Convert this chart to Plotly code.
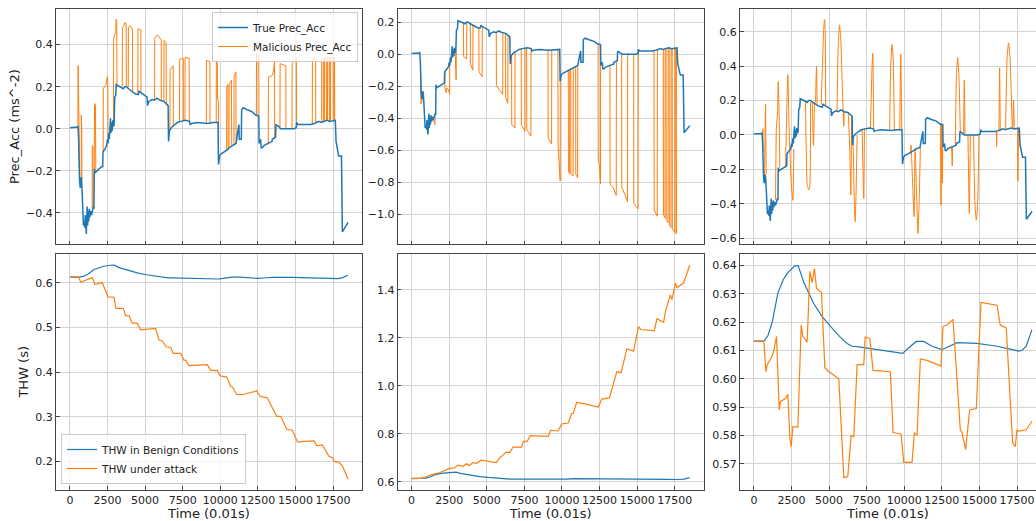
import plotly.graph_objects as go

FONT = "DejaVu Sans"
BLUE = "#1f77b4"
ORANGE = "#ff7f0e"

# ---------------- data (time in 0.01 s) ----------------
true_t = [0, 500, 540, 580, 640, 680, 720, 750, 790, 850, 900, 950, 990, 1020, 1050, 1090, 1120,
          1150, 1180, 1210, 1250, 1290, 1330, 1380, 1440, 1500, 1560, 1600, 1620, 1660, 1800, 1950,
          2100, 2180, 2200, 2300, 2400, 2450, 2500, 2540, 2580, 2620, 2660, 2700, 2730, 2770, 2810,
          2850, 2900, 2940, 2980, 3050, 3080, 3200, 3370, 3550, 3650, 3770, 3900, 4150, 4370, 4550,
          4600, 4650, 4920, 5130, 5160, 5250, 5480, 5600, 5800, 6000, 6250, 6480, 6530, 6560, 6620,
          6800, 6950, 7150, 7360, 7700, 7950, 8000, 8100, 8470, 9130, 9500, 9850, 9880, 9950, 10030,
          10470, 10600, 10800, 11000, 11050, 11150, 11240, 11260, 11400, 11420, 11530, 11800, 12130,
          12350, 12500, 12560, 12580, 12680, 12720, 12800, 12900, 13130, 13450, 13460, 13680, 13700,
          13900, 14000, 14500, 14900, 15050, 15080, 15150, 15600, 16000, 16250, 16550, 16700, 17100,
          17300, 17600, 17650, 17700, 17830, 17870, 18000, 18060, 18120, 18500]
true_acc = [0.005, 0.008, 0.013, -0.05, -0.24, -0.28, -0.27, -0.23, -0.26, -0.45, -0.46, -0.44,
            -0.47, -0.41, -0.48, -0.50, -0.43, -0.37, -0.46, -0.39, -0.44, -0.38, -0.42, -0.39,
            -0.41, -0.38, -0.37, -0.38, -0.19, -0.21, -0.20, -0.19, -0.18, -0.18, -0.11, -0.10,
            -0.09, -0.08, -0.05, -0.07, -0.02, -0.05, 0.0, 0.05, -0.02, 0.03, -0.01, 0.04, 0.01,
            0.02, 0.15, 0.16, 0.21, 0.205, 0.195, 0.19, 0.2, 0.2, 0.19, 0.175, 0.165, 0.162, 0.18,
            0.175, 0.16, 0.15, 0.11, 0.13, 0.14, 0.135, 0.145, 0.135, 0.13, 0.11, 0.11, -0.06, -0.01,
            0.01, 0.02, 0.03, 0.035, 0.04, 0.035, 0.02, 0.025, 0.03, 0.025, 0.03, 0.03, -0.17, -0.13,
            -0.12, -0.10, -0.09, -0.08, -0.075, -0.07, -0.02, 0.02, -0.05, -0.05, 0.09, 0.10, 0.09,
            0.08, 0.065, 0.06, 0.06, -0.07, -0.05, -0.09, -0.09, -0.08, -0.07, -0.06, -0.05, -0.04,
            0.02, 0.01, 0.0, 0.0, 0.0, 0.005, 0.03, 0.02, 0.02, 0.02, 0.025, 0.035, 0.03, 0.04, 0.035,
            0.04, 0.04, -0.06, -0.11, -0.13, -0.13, -0.13, -0.49, -0.445]

# malicious Prec_Acc, attack 1 (positive pulses)
mal1_t = [530, 545, 600, 640, None, 750, 760, 790, 800, None, 1480, 1490, 1530, 1540, None,
          1620, 1640, 1700, 1720, None, 2210, 2220, 2300, 2400, 2450, 2500, 2520, 2540, None,
          2900, 2910, 2990, 3050, 3070, 3110, 3130, None, 3480, 3490, 3600, 3640, 3740, 3750, None,
          3880, 3890, 4000, 4160, 4170, None, 4520, 4530, 4720, 4725, None,
          5630, 5640, 5800, 5900, 6000, 6070, 6080, None, 6250, 6260, 6400, 6410, None,
          6650, 6660, 6800, 6870, 6880, None, 7290, 7300, 7540, 7545, None, 7650, 7660, 7930, 7940, None,
          9070, 9080, 9310, 9320, None, 9730, 9740, 9800, 9820, 9880, 9890, None,
          10420, 10430, 10510, 10520, None, 10580, 10590, 10740, 10760, None, 10910, 10920, 11040, 11050, None,
          12400, 12410, 12560, 12570, None, 13190, 13200, 13400, 13500, 13580, 13610, 13620, None,
          13970, 13980, 14100, 14360, 14370, None, 14770, 14780, 14900, 14980, 15060, 15075, None,
          16120, 16130, 16340, 16350, None, 16740, 16750, 16850, 16860, None, 16920, 16930, 17050, 17060, None,
          17130, 17140, 17250, 17260, None, 17330, 17340, 17500, 17510, None, 17560, 17570, 17600, 17610]
mal1_acc = [0.012, 0.30, 0.05, -0.22, None, -0.23, 0.065, 0.0, -0.25, None, -0.38, -0.08, -0.09, -0.38, None,
            -0.19, 0.12, 0.11, -0.2, None, -0.11, 0.19, 0.2, 0.21, 0.23, 0.25, 0.22, -0.06, None,
            0.01, 0.43, 0.45, 0.46, 0.52, 0.51, 0.21, None, 0.2, 0.48, 0.49, 0.505, 0.50, 0.2, None,
            0.2, 0.48, 0.49, 0.475, 0.18, None, 0.165, 0.475, 0.47, 0.175, None,
            0.135, 0.43, 0.445, 0.44, 0.43, 0.42, 0.135, None, 0.13, 0.42, 0.41, 0.12, None,
            -0.01, 0.28, 0.295, 0.30, 0.01, None, 0.035, 0.33, 0.335, 0.04, None, 0.04, 0.34, 0.335, 0.035, None,
            0.025, 0.325, 0.32, 0.025, None, 0.03, 0.33, 0.325, 0.14, 0.13, -0.16, None,
            -0.10, 0.2, 0.21, -0.1, None, -0.09, 0.21, 0.23, -0.08, None, -0.08, 0.25, 0.27, -0.07, None,
            0.065, 0.36, 0.35, 0.06, None, -0.07, 0.245, 0.25, 0.26, 0.30, 0.32, -0.05, None,
            0.0, 0.31, 0.305, 0.30, 0.0, None, 0.0, 0.31, 0.32, 0.33, 0.34, 0.03, None,
            0.02, 0.335, 0.33, 0.025, None, 0.03, 0.33, 0.335, 0.03, None, 0.035, 0.335, 0.34, 0.04, None,
            0.04, 0.34, 0.34, 0.035, None, 0.035, 0.34, 0.34, 0.04, None, 0.04, 0.34, 0.34, 0.04]

# malicious Prec_Acc, attack 2 (negative pulses)
mal2_t = [600, 620, 680, 700, None, 1440, 1450, 1550, 1560, None,
          2210, 2220, 2300, 2350, 2450, 2530, 2540, None, 2900, 2910, 2960, 2970, None,
          3450, 3460, 3660, 3670, None, 3900, 3910, 4070, 4080, None, 4470, 4480, 4690, 4700, None,
          5630, 5640, 5900, 6060, 6070, None, 6250, 6260, 6400, 6410, None,
          6650, 6660, 6870, 6880, None, 7290, 7300, 7540, 7545, None, 7650, 7660, 7930, 7940, None,
          9070, 9080, 9310, 9320, None, 9730, 9740, 9880, 9890, None,
          10420, 10430, 10510, 10520, None, 10580, 10590, 10740, 10750, None, 10910, 10920, 11040, 11050, None,
          12400, 12410, 12500, 12560, 12570, None, 13190, 13200, 13400, 13550, 13610, 13620, None,
          13970, 13980, 14200, 14360, 14370, None, 14770, 14780, 15060, 15075, None,
          16120, 16130, 16340, 16350, None, 16740, 16750, 16850, 16860, None, 16920, 16930, 17050, 17060, None,
          17130, 17140, 17250, 17260, None, 17330, 17340, 17500, 17510, None, 17560, 17570, 17600, 17610]
mal2_acc = [-0.1, -0.31, -0.30, -0.27, None, -0.39, -0.40, -0.44, -0.38, None,
            -0.11, -0.21, -0.24, -0.21, -0.22, -0.25, -0.06, None, 0.01, -0.15, -0.16, 0.02, None,
            0.2, -0.015, -0.03, 0.2, None, 0.19, -0.06, -0.10, 0.18, None, 0.165, -0.11, -0.14, 0.175, None,
            0.135, -0.195, -0.23, -0.25, 0.13, None, 0.13, -0.27, -0.305, 0.12, None,
            -0.01, -0.44, -0.46, 0.01, None, 0.035, -0.44, -0.48, 0.04, None, 0.04, -0.47, -0.51, 0.035, None,
            0.025, -0.52, -0.56, 0.025, None, 0.03, -0.56, -0.79, -0.17, None,
            -0.10, -0.73, -0.745, -0.1, None, -0.09, -0.745, -0.76, -0.085, None, -0.08, -0.75, -0.77, -0.07, None,
            0.065, -0.66, -0.70, -0.81, 0.06, None, -0.07, -0.81, -0.83, -0.86, -0.88, -0.05, None,
            0.0, -0.83, -0.88, -0.92, 0.0, None, 0.0, -0.93, -0.965, 0.03, None,
            0.02, -0.97, -1.01, 0.025, None, 0.03, -1.0, -1.02, 0.03, None, 0.035, -1.03, -1.05, 0.04, None,
            0.04, -1.06, -1.08, 0.035, None, 0.035, -1.09, -1.11, 0.04, None, 0.04, -1.11, -1.12, 0.04]

# malicious Prec_Acc, attack 3 (oscillating)
mal3_t = [570, 598, 615, None, 700, 760, 775, 790, 820, None,
          1440, 1500, 1570, 1616, 1650, 1683, 1720, None,
          2103, 2200, 2258, 2320, 2391, 2500, 2590, 2657, None,
          3430, 3480, 3542, 3600, 3653, 3720, 3764, None, 3880, 3963, 4030, None, 4100, 4162, 4207, None,
          4470, 4560, 4630, 4694, 4740, 4770, None, 5530, 5600, 5690, 5780, 5870, 5978, 6000, None,
          6280, 6380, 6443, 6500, None, 6600, 6680, 6731, 6790, 6863, None, 7200, 7306, 7350, None,
          7750, 7860, 7904, 7970, None, 9030, 9100, 9188, 9260, 9340, None, 9700, 9764, 9830, None,
          10400, 10450, 10520, 10650, 10720, 10800, 10915, 11000, 11070, None,
          12400, 12443, 12480, None, 12500, 12531, 12560, None, 13150, 13190, 13220, None,
          13395, 13470, 13550, 13630, 13727, None, 13948, 13993, 14037, None, 14236, 14325, 14391, None,
          14612, 14700, 14790, 14880, 14967, None, 16118, 16140, 16162, None, 16295, 16340, 16384, None,
          16738, 16840, 16937, 17030, 17181, None, 17225, 17269, 17313, None, 17535, 17557, 17601]
mal3_acc = [0.0, 0.035, -0.1, None, -0.28, 0.12, 0.18, 0.0, -0.23, None,
            -0.38, 0.05, 0.12, 0.31, 0.2, 0.1, -0.19, None,
            -0.19, 0.2, 0.35, 0.1, -0.1, -0.3, -0.38, -0.08, None,
            0.2, -0.1, -0.29, -0.31, -0.32, -0.29, 0.19, None, 0.19, -0.06, 0.19, None, 0.19, 0.40, 0.18, None,
            0.175, 0.40, 0.60, 0.67, 0.60, 0.17, None, 0.14, 0.50, 0.64, 0.55, 0.30, 0.05, 0.135, None,
            0.12, -0.1, -0.35, 0.11, None, -0.04, -0.4, -0.505, -0.35, 0.0, None, 0.03, -0.37, 0.035, None,
            0.04, 0.40, 0.475, 0.035, None, 0.025, 0.40, 0.525, 0.45, 0.025, None, 0.03, 0.47, 0.03, None,
            -0.11, -0.06, -0.2, -0.475, -0.08, -0.3, -0.573, -0.35, -0.07, None,
            0.065, -0.41, 0.06, None, 0.06, -0.28, -0.05, None, -0.07, -0.18, -0.07, None,
            -0.06, 0.35, 0.45, 0.35, 0.02, None, 0.01, 0.32, 0.0, None, 0.0, -0.457, 0.0, None,
            0.0, -0.4, -0.496, -0.4, 0.0, None, 0.02, -0.07, 0.02, None, 0.02, 0.39, 0.02, None,
            0.03, 0.45, 0.535, 0.45, 0.035, None, 0.04, 0.2, 0.035, None, 0.04, -0.27, 0.04]

# THW in benign conditions
benign_t = [0, 664, 930, 1218, 1594, 1948, 2258, 2701, 2945, 3321, 3985, 4539, 5092, 5690, 6199,
            6531, 6863, 7970, 9298, 9897, 10295, 10805, 11292, 11845, 12509, 13063, 13505, 14834,
            16162, 17048, 17601, 17823, 18110, 18486]
benign_thw = [0.6133, 0.6133, 0.6152, 0.6200, 0.6303, 0.6350, 0.6375, 0.6398, 0.6400, 0.6340,
              0.6265, 0.6220, 0.6185, 0.6150, 0.6125, 0.6115, 0.6114, 0.6105, 0.6095, 0.6090,
              0.6110, 0.6132, 0.6132, 0.6115, 0.6103, 0.6118, 0.6128, 0.6125, 0.6115, 0.6105,
              0.6098, 0.6100, 0.6115, 0.6173]

# THW under attack 1
att1_t = [0, 600, 710, 1486, 1663, 2151, 2528, 2928, 3061, 3549, 3704, 3926, 4148, 4480, 4702,
          5700, 5922, 6144, 6410, 6698, 6876, 7364, 7586, 7697, 7918, 9138, 9360, 9804, 9981,
          10425, 10691, 10802, 11090, 11534, 12421, 12643, 13131, 13752, 14018, 14417, 14794,
          15127, 16236, 16413, 16790, 17234, 17456, 17566, 17900, 18121, 18498]
att1_thw = [0.6135, 0.6135, 0.6015, 0.6120, 0.5970, 0.6010, 0.5690, 0.5680, 0.5430, 0.5430,
            0.5270, 0.5270, 0.5100, 0.5100, 0.4950, 0.4980, 0.4720, 0.4700, 0.4570, 0.4560,
            0.4420, 0.4420, 0.4270, 0.4270, 0.4150, 0.4170, 0.4040, 0.4040, 0.3920, 0.3890,
            0.3680, 0.3670, 0.3500, 0.3500, 0.3580, 0.3460, 0.3420, 0.3010, 0.3010, 0.2720,
            0.2700, 0.2440, 0.2460, 0.2350, 0.2370, 0.2110, 0.2090, 0.2000, 0.1980, 0.1900, 0.1600]

# THW under attack 2
att2_t = [0, 620, 1400, 1850, 2515, 2850, 3072, 3450, 3628, 3850, 4073, 4300, 4630, 5632, 5854,
          6077, 6300, 6522, 6745, 7301, 7457, 7680, 7902, 9082, 9238, 9750, 9972, 10418, 10640,
          10752, 10974, 11531, 12421, 12644, 13156, 13645, 13934, 14313, 14761, 15092, 15248,
          16139, 16316, 16761, 16873, 17207, 17318, 17541, 17652, 18097, 18498]
att2_thw = [0.614, 0.614, 0.631, 0.638, 0.656, 0.658, 0.670, 0.665, 0.675, 0.668, 0.680, 0.677,
            0.690, 0.680, 0.700, 0.711, 0.724, 0.722, 0.745, 0.745, 0.770, 0.768, 0.793, 0.790,
            0.815, 0.812, 0.841, 0.845, 0.885, 0.885, 0.931, 0.925, 0.912, 0.945, 0.950, 1.059,
            1.055, 1.154, 1.145, 1.247, 1.235, 1.230, 1.280, 1.265, 1.309, 1.379, 1.360, 1.428,
            1.410, 1.430, 1.504]

# THW under attack 3
att3_t = [0, 664, 797, 885, 1107, 1284, 1505, 1683, 1771, 2103, 2258, 2391, 2480, 2590, 2922,
          3144, 3255, 3542, 3720, 3875, 4029, 4162, 4494, 4716, 4871, 5646, 5978, 6243, 6465,
          6642, 6863, 7306, 7395, 7705, 7926, 9077, 9254, 9785, 9963, 10517, 10672, 10849, 11070,
          11513, 12443, 12576, 12842, 13240, 13727, 13838, 14081, 14347, 14790, 15100, 16162,
          16384, 16782, 17203, 17380, 17490, 17601, 18110, 18486]
att3_thw = [0.6133, 0.6133, 0.6025, 0.6050, 0.6070, 0.6090, 0.6150, 0.5890, 0.5920, 0.5930,
            0.5945, 0.5790, 0.5760, 0.5830, 0.5830, 0.6190, 0.6150, 0.6130, 0.6380, 0.6340,
            0.6390, 0.6320, 0.6305, 0.6040, 0.6030, 0.6000, 0.5651, 0.5655, 0.5800, 0.5795,
            0.6050, 0.6050, 0.6148, 0.6143, 0.6030, 0.6025, 0.5810, 0.5805, 0.5705, 0.5705,
            0.5810, 0.5800, 0.6070, 0.6065, 0.6045, 0.6185, 0.6190, 0.6210, 0.5820, 0.5810,
            0.5750, 0.5890, 0.5895, 0.6270, 0.6260, 0.6190, 0.6180, 0.5775, 0.5760, 0.5820,
            0.5815, 0.5820, 0.5850]

x_ticks = [0, 2500, 5000, 7500, 10000, 12500, 15000, 17500]

# ---------------- figure ----------------
W, H = 1036, 521
fig = go.Figure()

mal_sets = [(mal1_t, mal1_acc, "linear"), (mal2_t, mal2_acc, "linear"), (mal3_t, mal3_acc, "spline")]
for i, (mt, mv, shape) in enumerate(mal_sets):
    xa = "x" if i == 0 else f"x{i+1}"
    ya = "y" if i == 0 else f"y{i+1}"
    fig.add_trace(go.Scatter(x=mt, y=mv, xaxis=xa, yaxis=ya, mode="lines",
                             line=dict(color=ORANGE, width=1, shape=shape, smoothing=0.6),
                             name="Malicious Prec_Acc", legend="legend", legendrank=2,
                             showlegend=(i == 0), connectgaps=False))
    fig.add_trace(go.Scatter(x=true_t, y=true_acc, xaxis=xa, yaxis=ya, mode="lines",
                             line=dict(color=BLUE, width=1.5),
                             name="True Prec_Acc", legend="legend", legendrank=1,
                             showlegend=(i == 0)))

att_sets = [(att1_t, att1_thw), (att2_t, att2_thw), (att3_t, att3_thw)]
for i, (at, av) in enumerate(att_sets):
    xa = f"x{i+4}"
    ya = f"y{i+4}"
    fig.add_trace(go.Scatter(x=benign_t, y=benign_thw, xaxis=xa, yaxis=ya, mode="lines",
                             line=dict(color=BLUE, width=1.2),
                             name="THW in Benign Conditions", legend="legend2", legendrank=1,
                             showlegend=(i == 0)))
    fig.add_trace(go.Scatter(x=at, y=av, xaxis=xa, yaxis=ya, mode="lines",
                             line=dict(color=ORANGE, width=1.2),
                             name="THW under attack", legend="legend2", legendrank=2,
                             showlegend=(i == 0)))

col_px = [(56, 362), (397.7, 703.7), (740, 1036)]
x_ranges = [[-925, 19425], [-925, 19425], [-925, 18760]]
row_dom = [[1 - 244.3 / H, 1 - 9 / H], [1 - 489.5 / H, 1 - 254 / H]]
y_ranges = [[-0.549, 0.569], [-1.185, 0.282], [-0.636, 0.732],
            [0.137, 0.665], [0.568, 1.550], [0.5609, 0.6441]]
y_dtick = [0.2, 0.2, 0.2, 0.1, 0.2, 0.01]
y_fmt = [".1f", ".1f", ".1f", ".1f", ".1f", ".2f"]

tickfont = dict(family=FONT, size=11, color="#222222")
titlefont = dict(family=FONT, size=13, color="#222222")
common = dict(showline=True, linecolor="#444444", linewidth=1, ticks="inside", ticklen=3.5,
              tickwidth=1, tickcolor="#444444", showgrid=True, gridcolor="#d3d3d3", gridwidth=1,
              zeroline=False, tickfont=tickfont, automargin=False)

layout = {}
for k in range(6):
    r, c = divmod(k, 3)
    suffix = "" if k == 0 else str(k + 1)
    a, b = col_px[c]
    xax = dict(common, domain=[a / W, b / W], range=x_ranges[c], tickmode="array",
               tickvals=x_ticks, ticktext=[str(v) for v in x_ticks], mirror=True,
               anchor="y" + suffix, showticklabels=(r == 1))
    if r == 1:
        xax["title"] = dict(text="Time (0.01s)", font=titlefont, standoff=2)
    yax = dict(common, domain=row_dom[r], range=y_ranges[k], dtick=y_dtick[k], tick0=0,
               tickformat=y_fmt[k], mirror=(c != 2), anchor="x" + suffix)
    if k == 0:
        yax["title"] = dict(text="Prec_Acc (ms^-2)", font=titlefont, standoff=3)
    if k == 3:
        yax["title"] = dict(text="THW (s)", font=titlefont, standoff=3)
    layout["xaxis" + suffix] = xax
    layout["yaxis" + suffix] = yax

legend_common = dict(bgcolor="rgba(255,255,255,0.8)", bordercolor="#cccccc", borderwidth=1,
                     font=dict(family=FONT, size=10.5, color="#222222"), itemwidth=30,
                     tracegroupgap=0)
fig.update_layout(
    width=W, height=H, margin=dict(l=0, r=0, t=0, b=0, autoexpand=False),
    paper_bgcolor="white", plot_bgcolor="white",
    font=dict(family=FONT, color="#222222"),
    legend=dict(legend_common, x=358 / W, y=1 - 12 / H, xanchor="right", yanchor="top"),
    legend2=dict(legend_common, x=61 / W, y=1 - 484 / H, xanchor="left", yanchor="bottom"),
    **layout,
)

fig.write_html("out.html", config={"displayModeBar": False},
               post_script="document.body.style.margin='0';document.body.style.overflow='hidden';")
